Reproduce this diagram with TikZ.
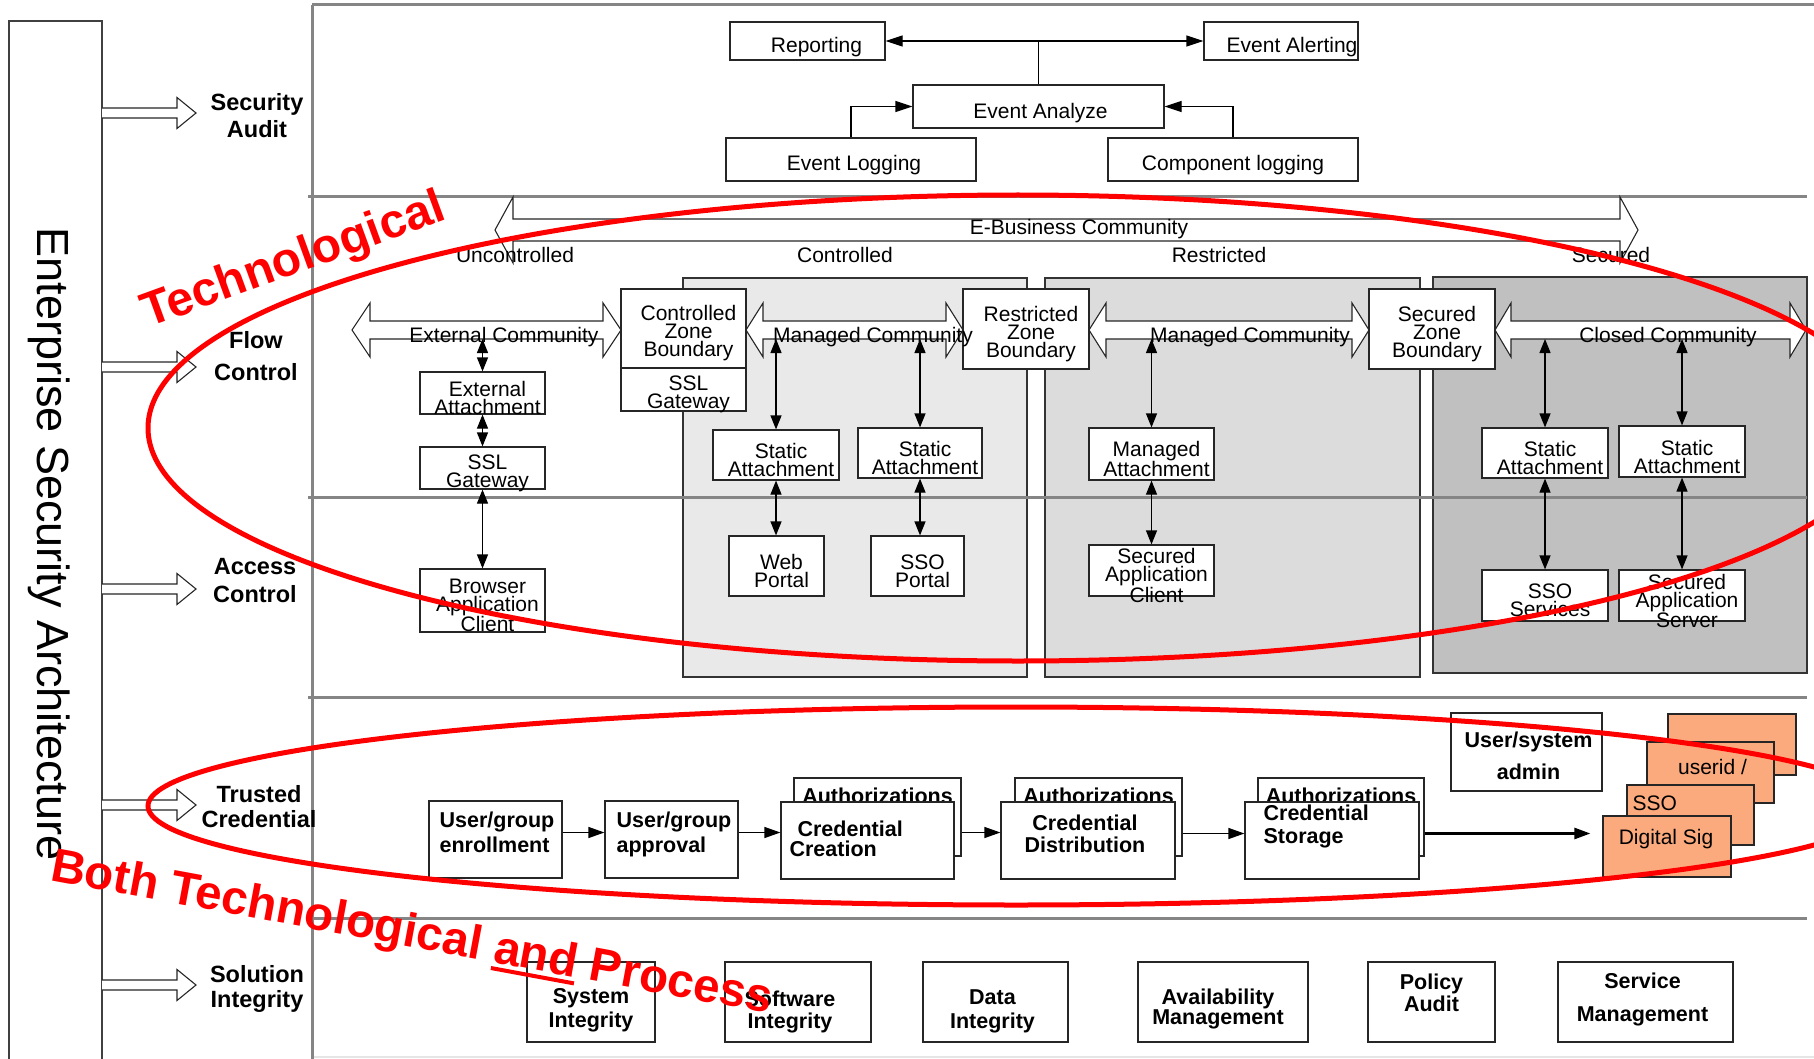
\documentclass[tikz,border=0pt]{standalone}
\usepackage{fontspec}
\setmainfont{Liberation Sans}
\usetikzlibrary{arrows.meta,fit}

\definecolor{zonecontrolled}{HTML}{E9E9E9}
\definecolor{zonerestricted}{HTML}{DCDCDC}
\definecolor{zonesecured}{HTML}{C0C0C0}
\definecolor{layergray}{HTML}{858585}
\definecolor{tokenorange}{HTML}{FBAA7D}

\newcommand*{\ZoneBoxes}[1]{% #1 = list of name/x1/y1/x2/y2/text
\foreach \nm/\xa/\ya/\xb/\yb/\txt in {#1} {
\node [plainbox, fit={(\xa,\ya) (\xb,\yb)},
label={[plainbox text]center:\txt}] (\nm) {};
}%
}
\newcommand*{\WideArrowOne}[6]{% #1 = x tail, #2 = x tip, #3 = y, #4 = half shaft, #5 = half head, #6 = head length
\draw [widearrow] (#1,#3-#4) -- (#2-#6,#3-#4) -- ++(0,#4-#5) -- (#2,#3)
-- ++(-#6,#5) -- ++(0,#4-#5) -- (#1,#3+#4);
}
\newcommand*{\WideArrowTwo}[7]{% #1 = name, #2 = x left tip, #3 = x right tip, #4 = y, #5 = half shaft, #6 = half head, #7 = head length
\draw [widearrow] (#2,#4) -- ++(#7,-#6) -- ++(0,#6-#5) -- (#3-#7,#4-#5)
-- ++(0,#5-#6) -- (#3,#4) -- ++(-#7,#6) -- ++(0,#5-#6) -- (#2+#7,#4+#5)
-- ++(0,#6-#5) -- cycle;
\coordinate (#1-low) at (#2,#4+#5);
}
\newcommand*{\RedUnder}[1]{\setbox0=\hbox{#1}\rlap{\rule[-8pt]{\wd0}{4pt}}\box0\relax}

\tikzset{
plainbox/.style={draw=black!85, fill=white, line width=1.2pt, inner sep=0pt},
plain text/.style={font=\fontsize{21}{18}\selectfont, inner sep=0pt},
plainbox text/.style={plain text, align=center, xshift=5pt, yshift=-5pt},
boldbox text/.style={font=\bfseries\fontsize{21.5}{25}\selectfont, inner sep=0pt},
zone/.style={draw=black!80, line width=1.2pt, inner sep=0pt},
widearrow/.style={draw=black!85, fill=white, line width=1.1pt, line join=miter},
layerline/.style={draw=layergray, line width=3pt},
dbl/.style={<->, >={Triangle[length=14pt,width=11pt]}, line width=1.2pt},
flowarrow/.style={->, >={Triangle[length=17pt,width=11pt]}, line width=1.2pt},
chainarrow/.style={->, >={Triangle[length=16pt,width=11pt]}, line width=1.2pt},
comtext/.style={font=\fontsize{21}{21}\selectfont, inner sep=0pt},
layertext/.style={align=center, inner sep=0pt},
redmark/.style={draw=red, line width=5pt},
redtext/.style={text=red, inner sep=0pt}
}

\begin{document}
\begin{tikzpicture}[x=1pt, y=-1pt]
\useasboundingbox (0,0) rectangle (1814,1059);

% security zones
\node [zone, fill=zonecontrolled, fit={(683,278) (1027,677)}] (czone) {};
\node [zone, fill=zonerestricted, fit={(1045,278) (1420,677)}] (rzone) {};
\node [zone, fill=zonesecured, fit={(1433,277) (1807,673)}] (szone) {};

% layer lines
\draw [layerline] (312,5) -- (1814,5);
\draw [layerline] (312,5) -- (312,1059);
\foreach \y in {197,497,697,918} {
\draw [layerline] (308,\y) -- (1807,\y);
}
\draw [gray!20, line width=1.5pt] (314,1057) -- (1814,1057);

% enterprise bar and layers
\draw [draw=black!75, line width=1.3pt] (9,1059) |- (102,21) -- (102,1059);
\node [rotate=-90, anchor=base, inner sep=0pt, font=\fontsize{45}{45}\selectfont]
(esa) at (37,544) {Enterprise Security Architecture};
\foreach \y in {113,367,589,805,985} {
\WideArrowOne{102}{196}{\y}{5}{15.5}{19}
}
\foreach \nm/\x/\y/\skp/\txt in {audit/257/93/27/{Security\\Audit},
flow/256/331/32/{Flow\\Control}, access/255/558/28/{Access\\Control},
trusted/259/785/25/{Trusted\\Credential}, integ/257/965/25/{Solution\\Integrity}} {
\node [layertext, font=\bfseries\fontsize{23.5}{\skp}\selectfont, anchor=north]
(\nm) at (\x,\y) {\txt};
}

% security audit
\node [plainbox, fit={(730,22) (885,60)},
label={[plain text, xshift=9pt, yshift=-6.5pt]center:Reporting}] (rep) {};
\node [plainbox, fit={(1204,22) (1358,60)},
label={[plain text, xshift=11pt, yshift=-6.5pt]center:Event Alerting}] (alert) {};
\node [plainbox, fit={(913,85) (1164,128)},
label={[plain text, xshift=2pt, yshift=-7pt]center:Event Analyze}] (ean) {};
\node [plainbox, fit={(726,138) (976,181)},
label={[plain text, xshift=3pt, yshift=-6pt]center:Event Logging}] (elog) {};
\node [plainbox, fit={(1108,138) (1358,181)},
label={[plain text, yshift=-6pt]center:Component logging}] (clog) {};
\coordinate (split) at (ean.north |- rep.east);
\draw [line width=1.2pt] (ean.north) -- (split);
\draw [flowarrow] (split) -- (rep.east);
\draw [flowarrow] (split) -- (alert.west);
\draw [flowarrow] (elog.north) |- (ean.west);
\draw [flowarrow] (clog.north) |- (ean.east);

% flow control
\WideArrowTwo{ebiz}{495}{1638}{230}{11}{33}{18}
\node [comtext, anchor=base] (ebiz-t) at (1079,235) {E-Business Community};
\foreach \nm/\x/\txt in {unc/515/Uncontrolled, con/845/Controlled,
res/1219/Restricted, sec/1611/Secured} {
\node [comtext, anchor=base] (\nm) at (\x,262) {\txt};
}
\WideArrowTwo{extcom}{352}{621}{330}{9}{27}{18}
\WideArrowTwo{mcom1}{746}{963}{330}{9}{27}{17}
\WideArrowTwo{mcom2}{1089}{1369}{330}{9}{27}{17}
\WideArrowTwo{ccom}{1495}{1806}{330}{9}{27}{16}

\ZoneBoxes{extatt/420/372/545/414/{External\\Attachment},
sslg1/420/447/545/489/{SSL\\Gateway},
bac/420/569/545/632/{Browser\\Application\\Client},
czb/621/289/746/368/{Controlled\\Zone\\Boundary},
sslg2/621/368/746/411/{SSL\\Gateway},
sa1/713/430/839/480/{Static\\Attachment},
sa2/858/428/982/478/{Static\\Attachment},
webp/729/536/824/596/{Web\\Portal},
ssop/871/536/964/596/{SSO\\Portal},
rzb/963/289/1089/369/{Restricted\\Zone\\Boundary},
matt/1089/428/1214/480/{Managed\\Attachment},
sacl/1089/545/1214/596/{Secured\\Application\\Client},
szb/1369/289/1495/369/{Secured\\Zone\\Boundary},
sa3/1482/428/1608/478/{Static\\Attachment},
sa4/1619/426/1745/477/{Static\\Attachment},
ssos/1482/570/1608/621/{SSO\\Services},
sas/1619/570/1745/621/{Secured\\Application\\Server}}

\node [comtext, anchor=base] (extcom-t) at (504,342) {External Community};
\node [comtext, anchor=base] (mcom1-t) at (873,342) {Managed Community};
\node [comtext, anchor=base] (mcom2-t) at (1250,342) {Managed Community};
\node [comtext, anchor=base] (ccom-t) at (1668,342) {Closed Community};

\draw [dbl] (extcom-low -| extatt.north) -- (extatt.north);
\draw [dbl] (extatt.south) -- (sslg1.north);
\draw [dbl] (sslg1.south) -- (bac.north);
\draw [dbl] (mcom1-low -| sa1.north) -- (sa1.north);
\draw [dbl] (sa1.south) -- (sa1.south |- webp.north);
\draw [dbl] (mcom1-low -| sa2.north) -- (sa2.north);
\draw [dbl] (sa2.south) -- (sa2.south |- ssop.north);
\draw [dbl] (mcom2-low -| matt.north) -- (matt.north);
\draw [dbl] (matt.south) -- (sacl.north);
\draw [dbl] (ccom-low -| sa3.north) -- (sa3.north);
\draw [dbl] (sa3.south) -- (ssos.north);
\draw [dbl] (ccom-low -| sa4.north) -- (sa4.north);
\draw [dbl] (sa4.south) -- (sas.north);

% trusted credential
\node [plainbox, fit={(429,801) (562,878)}, label={[boldbox text, align=left,
anchor=north west, xshift=11pt, yshift=-11pt]north west:User/group\\enrollment}] (enr) {};
\node [plainbox, fit={(605,801) (738,878)}, label={[boldbox text, align=left,
anchor=north west, xshift=12pt, yshift=-11pt]north west:User/group\\approval}] (appr) {};
\foreach \nm/\xa/\xb in {ccb/794/961, cdb/1015/1182, csb/1258/1424} {
\node [plainbox, fit={(\xa,778) (\xb,856)},
label={[boldbox text, anchor=north, yshift=-10pt]north:Authorizations}] (\nm) {};
}
\node [plainbox, fit={(781,802) (954,879)}, label={[boldbox text,
font=\bfseries\fontsize{21.5}{20}\selectfont, align=left, anchor=north west,
xshift=9pt, yshift=-19pt]north west:\hspace*{8pt}Credential\\Creation}] (cc) {};
\node [plainbox, fit={(1001,802) (1175,879)}, label={[boldbox text,
font=\bfseries\fontsize{21.5}{22}\selectfont, align=center, anchor=north,
xshift=-3pt, yshift=-13pt]north:Credential\\Distribution}] (cd) {};
\node [plainbox, fit={(1245,802) (1419,879)}, label={[boldbox text,
font=\bfseries\fontsize{21.5}{23}\selectfont, align=left, anchor=north west,
xshift=19pt, yshift=-3pt]north west:Credential\\Storage}] (cs) {};
\node [plainbox, fit={(1451,713) (1602,791)}, label={[boldbox text,
font=\bfseries\fontsize{21.5}{32}\selectfont, align=center, anchor=north,
xshift=2pt, yshift=-19pt]north:User/system\\admin}] (usr) {};
\node [plainbox, fill=tokenorange, fit={(1668,714) (1796,775)}] (tok1) {};
\node [plainbox, fill=tokenorange, fit={(1647,742) (1774,803)},
label={[plain text, anchor=north, xshift=2pt, yshift=-17.5pt]north:userid /}] (tok2) {};
\node [plainbox, fill=tokenorange, fit={(1627,785) (1754,845)},
label={[plain text, anchor=north west, xshift=6pt, yshift=-11pt]north west:SSO}] (tok3) {};
\node [plainbox, fill=tokenorange, fit={(1603,816) (1731,877)},
label={[plain text, anchor=north, xshift=-1pt, yshift=-14pt]north:Digital Sig}] (dsig) {};

\draw [chainarrow] ([yshift=7pt]enr.east) -- ([yshift=7pt]enr.east -| appr.west);
\draw [chainarrow] ([yshift=7pt]appr.east) -- ([yshift=7pt]appr.east -| cc.west);
\draw [chainarrow] ([yshift=8pt]cc.east -| ccb.east) -- ([yshift=8pt]cc.east -| cd.west);
\draw [chainarrow] ([yshift=7pt]cd.east -| cdb.east) -- ([yshift=7pt]cd.east -| cs.west);
\draw [chainarrow, line width=2.6pt, shorten >=12pt]
([yshift=7pt]cs.east -| csb.east) -- ([yshift=7pt]cs.east -| dsig.west);

% solution integrity
\foreach \nm/\xa/\xb/\dx/\off/\skp/\txt in {
sysi/527/655/0/27/24/{System\\Integrity},
swi/725/871/-8/29/22/{Software\\Integrity},
dati/923/1068/-3/28/24/{Data\\Integrity},
avail/1138/1308/-5/27/16/{Availability\\Management},
pola/1368/1495/0/12/22/{Policy\\Audit},
servm/1558/1733/-3/11/33/{Service\\Management}} {
\node [plainbox, fit={(\xa,962) (\xb,1042)}, label={[boldbox text,
font=\bfseries\fontsize{21.5}{\skp}\selectfont, align=center, anchor=north,
xshift=\dx*1pt, yshift=-\off*1pt]north:\txt}] (\nm) {};
}

% red marks
\draw [redmark] (1018,428) ellipse [x radius=870pt, y radius=233pt];
\draw [redmark] (1016,806) ellipse [x radius=868pt, y radius=99pt];
\node [redtext, font=\bfseries\fontsize{48}{48}\selectfont, rotate=20,
anchor=base west] (techmark) at (148,328) {Technological};
\node [redtext, font=\bfseries\fontsize{47.5}{47.5}\selectfont, rotate=-10.5,
anchor=base west] (bothmark) at (49,880) {Both Technological \RedUnder{and} Process};

\end{tikzpicture}
\end{document}
